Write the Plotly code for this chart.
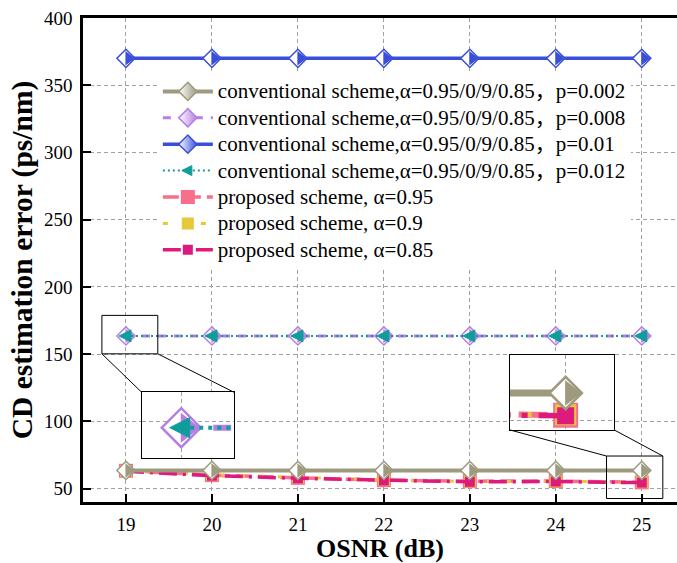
import plotly.graph_objects as go

# ---------------- data ----------------
osnr = [19, 20, 21, 22, 23, 24, 25]
conv_p0002 = [63.5, 63.5, 63.5, 63.5, 63.5, 63.5, 63.5]
conv_p0008 = [163.5, 163.5, 163.5, 163.5, 163.5, 163.5, 163.5]
conv_p001 = [370, 370, 370, 370, 370, 370, 370]
conv_p0012 = [163.5, 163.5, 163.5, 163.5, 163.5, 163.5, 163.5]
prop_a095 = [63.2, 60.0, 58.0, 56.2, 55.5, 55.6, 54.6]
prop_a090 = [63.0, 60.3, 58.3, 56.5, 55.3, 55.4, 54.8]
prop_a085 = [62.8, 59.6, 57.6, 56.0, 55.0, 55.2, 54.4]

x_ticks = [19, 20, 21, 22, 23, 24, 25]
y_ticks = [50, 100, 150, 200, 250, 300, 350, 400]

name_p0002 = "conventional scheme,α=0.95/0/9/0.85，p=0.002"
name_p0008 = "conventional scheme,α=0.95/0/9/0.85，p=0.008"
name_p001 = "conventional scheme,α=0.95/0/9/0.85，p=0.01"
name_p0012 = "conventional scheme,α=0.95/0/9/0.85，p=0.012"
name_a095 = "proposed scheme, α=0.95"
name_a090 = "proposed scheme, α=0.9"
name_a085 = "proposed scheme, α=0.85"

# ---------------- style ----------------
FONT = "Liberation Serif"
LEG_FONT = "Liberation Serif, 'Noto Sans CJK SC'"
C_GRAY = "#9d9a7e"
C_PURPLE = "#b57fe3"
C_BLUE = "#3a4fd9"
C_TEAL = "#0f9d9b"
C_PINK = "#f6708b"
C_YELLOW = "#e6c83b"
C_MAGENTA = "#df1a7d"
GRID = "#a0a0a0"

X_RANGE = [18.5, 25.41]
Y_RANGE = [40, 400]

# inset geometry (zoom windows)
ZL = dict(x0=18.72, x1=19.37, y0=150.2, y1=178.8)       # small box, main coords
ZR = dict(x0=24.59, x1=25.245, y0=42.6, y1=74.2)
IL_DOM_X, IL_DOM_Y = [0.0988, 0.2542], [0.0903, 0.2267]  # inset domains (paper)
IR_DOM_X, IR_DOM_Y = [0.7189, 0.8944], [0.1488, 0.3037]
IL_XR, IL_YR = [18.79, 19.28], [150.5, 178.5]
IR_XR, IR_YR = [24.64, 25.315], [48.7, 78.7]


def px(x):
    return (x - X_RANGE[0]) / (X_RANGE[1] - X_RANGE[0])


def py(y):
    return (y - Y_RANGE[0]) / (Y_RANGE[1] - Y_RANGE[0])


def big(name):
    return '<span style="font-size:21px">' + name + '</span>'


def series(y, name, color, lw, dash, marker, xa="x", ya="y", legend=True, rank=1, x=None):
    return go.Scatter(x=osnr if x is None else x, y=y, name=big(name), mode="lines+markers",
                      xaxis=xa, yaxis=ya, line=dict(color=color, width=lw, dash=dash), marker=marker,
                      showlegend=legend, legendrank=rank, hoverinfo="skip")


def half(y, color, size, standoff, xa="x", ya="y"):
    # right-half fill of a diamond
    return go.Scatter(x=osnr, y=y, mode="markers", xaxis=xa, yaxis=ya,
                      marker=dict(symbol="triangle-down", angle=-90, standoff=standoff,
                                  size=size, color=color, line=dict(width=0)),
                      showlegend=False, hoverinfo="skip")


def diamond(color, size, lw=1.5):
    return dict(symbol="diamond", size=size, color="white", line=dict(color=color, width=lw))


def diamond_legend(color, size, lw=1.5):
    # legend symbol: white left half fading to a coloured right half
    return dict(symbol="diamond", size=size, color="white", line=dict(color=color, width=lw),
                gradient=dict(type="horizontal", color=color))


def square(color, size):
    return dict(symbol="square", size=size, color=color, line=dict(width=0))


def tri_plot(size, standoff):
    return dict(symbol="arrow-down", angle=90, standoff=standoff, size=size, color=C_TEAL,
                line=dict(color=C_TEAL, width=1))


def tri_legend(size, standoff):
    return dict(symbol="arrow-up", angle=-90, standoff=standoff, size=size, color=C_TEAL,
                line=dict(color=C_TEAL, width=1))


fig = go.Figure()

# ---- main plot ----
fig.add_trace(series(prop_a095, name_a095, C_PINK, 3.5, "16px,6px", square(C_PINK, 14), rank=5))
fig.add_trace(series(prop_a090, name_a090, C_YELLOW, 3, "5px,14px", square(C_YELLOW, 12), rank=6))
fig.add_trace(series(prop_a085, name_a085, C_MAGENTA, 3.5, "18px,6px,3px,6px", square(C_MAGENTA, 10), rank=7))
fig.add_trace(series(conv_p0002, name_p0002, C_GRAY, 4, "solid", diamond(C_GRAY, 14), legend=False))
fig.add_trace(half(conv_p0002, C_GRAY, 12.6, 2.6))
fig.add_trace(series(conv_p0008, name_p0008, C_PURPLE, 3, "8px,8px", diamond(C_PURPLE, 14), legend=False))
fig.add_trace(half(conv_p0008, C_PURPLE, 12.6, 2.6))
fig.add_trace(series(conv_p001, name_p001, C_BLUE, 3.5, "solid", diamond(C_BLUE, 14), legend=False))
fig.add_trace(half(conv_p001, C_BLUE, 12.6, 2.6))
fig.add_trace(series(conv_p0012, name_p0012, C_TEAL, 2, "2px,3px", tri_plot(12, 7), legend=False))

# legend entries for the conventional schemes (symbols built for the legend)
fig.add_trace(series([None], name_p0002, C_GRAY, 4, "solid", diamond_legend(C_GRAY, 14), rank=1, x=[None]))
fig.add_trace(series([None], name_p0008, C_PURPLE, 3, "8px,8px", diamond_legend(C_PURPLE, 14), rank=2, x=[None]))
fig.add_trace(series([None], name_p001, C_BLUE, 3.5, "solid", diamond_legend(C_BLUE, 14), rank=3, x=[None]))
fig.add_trace(series([None], name_p0012, C_TEAL, 2, "2px,3px", tri_legend(10, 6), rank=4, x=[None]))

# ---- left inset ----
fig.add_trace(series(conv_p0008, name_p0008, C_PURPLE, 6, "18px,14px", diamond(C_PURPLE, 30, 2.5),
                     xa="x2", ya="y2", legend=False))
fig.add_trace(half(conv_p0008, C_PURPLE, 26, 6, xa="x2", ya="y2"))
fig.add_trace(series(conv_p0012, name_p0012, C_TEAL, 4, "4px,5px", tri_plot(20, 11.5),
                     xa="x2", ya="y2", legend=False))

# ---- right inset ----
fig.add_trace(series(prop_a095, name_a095, C_PINK, 6, "29px,11px", square(C_PINK, 25), xa="x3", ya="y3", legend=False))
fig.add_trace(series(prop_a090, name_a090, C_YELLOW, 5, "9px,25px", square(C_YELLOW, 21), xa="x3", ya="y3", legend=False))
fig.add_trace(series(prop_a085, name_a085, C_MAGENTA, 5.5, "32px,11px,6px,11px", square(C_MAGENTA, 17), xa="x3", ya="y3", legend=False))
fig.add_trace(series(conv_p0002, name_p0002, C_GRAY, 7, "solid", diamond(C_GRAY, 25, 2.5), xa="x3", ya="y3", legend=False))
fig.add_trace(half(conv_p0002, C_GRAY, 22, 5, xa="x3", ya="y3"))

axis_common = dict(showline=True, linecolor="black", linewidth=2.5, ticks="inside", ticklen=8,
                   tickwidth=2, tickcolor="black", showgrid=True, gridcolor=GRID, gridwidth=1,
                   griddash="4px,3px", zeroline=False, tickfont=dict(family=FONT, size=19, color="black"))

inset_common = dict(showline=True, mirror=True, linecolor="black", linewidth=1, ticks="",
                    showticklabels=False, showgrid=True, gridcolor=GRID, gridwidth=1,
                    griddash="4px,3px", zeroline=False)

shapes = []
for z in (ZL, ZR):
    shapes.append(dict(type="rect", xref="x", yref="y", x0=z["x0"], x1=z["x1"], y0=z["y0"], y1=z["y1"],
                       line=dict(color="black", width=1)))
conn = [
    (px(ZL["x0"]), py(ZL["y0"]), IL_DOM_X[0], IL_DOM_Y[1]),
    (px(ZL["x1"]), py(ZL["y0"]), IL_DOM_X[1], IL_DOM_Y[1]),
    (IR_DOM_X[0], IR_DOM_Y[0], px(ZR["x0"]), py(ZR["y1"])),
    (IR_DOM_X[1], IR_DOM_Y[0], px(ZR["x1"]), py(ZR["y1"])),
]
for a, b, c, d in conn:
    shapes.append(dict(type="line", xref="paper", yref="paper", x0=a, y0=b, x1=c, y1=d,
                       line=dict(color="black", width=1)))

fig.update_layout(
    width=677, height=563,
    margin=dict(l=83, r=0, t=18, b=61),
    paper_bgcolor="white", plot_bgcolor="white",
    font=dict(family=FONT, size=19, color="black"),
    showlegend=True,
    legend=dict(x=0.126, y=0.886, xanchor="left", yanchor="top", itemwidth=50,
                tracegroupgap=0, borderwidth=0, traceorder="normal", bgcolor="white",
                font=dict(family=LEG_FONT, size=18, color="black")),
    xaxis=dict(**axis_common, range=X_RANGE, tickvals=x_ticks, mirror=True,
               title=dict(text="<b>OSNR (dB)</b>", font=dict(family=FONT, size=26, color="black"), standoff=3),
               ticklabelstandoff=3),
    yaxis=dict(**axis_common, range=Y_RANGE, tickvals=y_ticks, mirror=False,
               title=dict(text="<b>CD estimation error (ps/nm)</b>", font=dict(family=FONT, size=29.5, color="black"), standoff=3),
               ticklabelstandoff=4),
    xaxis2=dict(**inset_common, domain=IL_DOM_X, anchor="y2", range=IL_XR, tickvals=[19]),
    yaxis2=dict(**inset_common, domain=IL_DOM_Y, anchor="x2", range=IL_YR, tickvals=[165.9]),
    xaxis3=dict(**inset_common, domain=IR_DOM_X, anchor="y3", range=IR_XR, tickvals=[25]),
    yaxis3=dict(**inset_common, domain=IR_DOM_Y, anchor="x3", range=IR_YR, tickvals=[52.3]),
    shapes=shapes,
)

fig.write_html("out.html")
